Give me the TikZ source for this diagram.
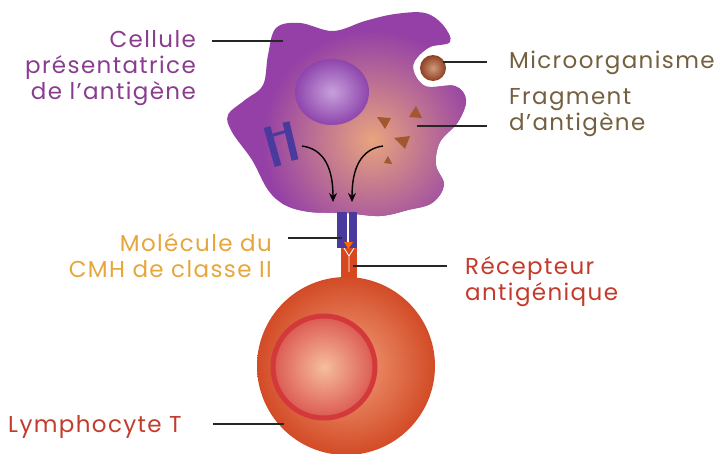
\documentclass[tikz,border=0pt]{standalone}
\usepackage{fontspec}
\setmainfont{Poppins}[LetterSpace=6]
\usepackage{tikz}
\usetikzlibrary{arrows.meta, shapes.geometric}

\definecolor{cpaText}{HTML}{8A3D8F}
\definecolor{brownText}{HTML}{74603F}
\definecolor{goldText}{HTML}{E6A63C}
\definecolor{redText}{HTML}{C23B2C}
\definecolor{cpaEdge}{HTML}{9440A6}
\definecolor{cpaGlow}{HTML}{E8A47E}
\definecolor{nucLight}{HTML}{C8A0DC}
\definecolor{nucDark}{HTML}{8E45AC}
\definecolor{mhcBlue}{HTML}{4B3A9E}
\definecolor{fragBrown}{HTML}{A2572F}
\definecolor{microDark}{HTML}{8E3F22}
\definecolor{microLight}{HTML}{D29A7C}
\definecolor{recRed}{HTML}{D8481F}
\definecolor{tEdge}{HTML}{D24B26}
\definecolor{tLight}{HTML}{F3A27E}
\definecolor{tRing}{HTML}{D3383A}
\definecolor{tCore}{HTML}{F6BE9C}

\begin{document}
\begin{tikzpicture}[
    x=1pt, y=-1pt,
    lbl/.style={font=\fontsize{23}{26}\selectfont, inner sep=0pt},
    leader/.style={line width=1.3pt, draw=black!85},
    flow/.style={->, line width=1.4pt, >={Stealth[length=9pt, width=8pt]}},
    frag/.style={fill=fragBrown}
  ]
    \useasboundingbox (0,0) rectangle (717,453);

    % antigen presenting cell
    \def\cpablob{plot[smooth cycle, tension=0.6] coordinates {
        (276,28) (300,23) (333,31) (365,21) (395,14) (425,13) (443,25)
        (450,42) (428,48) (413,66) (425,86) (455,86) (466,100) (458,122)
        (440,142) (436,165) (444,185) (432,203) (408,210) (380,216)
        (345,213) (310,212) (285,205) (268,190) (252,160) (232,132)
        (228,115) (245,100) (263,85) (268,55)}}
    \begin{scope}
      \clip \cpablob;
      \fill[cpaEdge] (200,0) rectangle (480,240);
      \shade[inner color=cpaGlow, outer color=cpaEdge] (372,140) circle (110);
    \end{scope}
    \node[ellipse, minimum width=74, minimum height=66, inner sep=0pt,
          inner color=nucLight, outer color=nucDark, shade] (cpanuc) at (332,92) {};

    % microorganism in its pocket
    \node[circle, minimum size=26, inner sep=0pt,
          inner color=microLight, outer color=microDark, shade] (microbe) at (433,68) {};

    % antigen fragments
    \fill[frag] (377,117) -- (391,118) -- (385,129) -- cycle;
    \fill[frag] (416,106) -- (422,118) -- (409,117) -- cycle;
    \fill[frag] (394,138) -- (410,136) -- (405,149) -- cycle;
    \fill[frag] (388,156) -- (392,164) -- (384,163) -- cycle;

    % MHC II inside the cell
    \draw[mhcBlue, line width=7pt] (267,127) -- (278,166);
    \draw[mhcBlue, line width=7pt] (286,122) -- (295,160);
    \draw[mhcBlue, line width=3pt] (270,136) -- (287,131);

    % transport arrows
    \coordinate (srcL) at (302,146);
    \coordinate (srcR) at (383,146);
    \coordinate (dstL) at (333,202);
    \coordinate (dstR) at (352,202);
    \draw[flow] (srcL) .. controls (324,149) and (333,168) .. (dstL);
    \draw[flow] (srcR) .. controls (361,149) and (352,168) .. (dstR);

    % receptor of the T cell
    \fill[recRed] (341,246) rectangle (357,285);
    \draw[white, line width=0.8pt] (344,248) -- (349,256) -- (354,248)
                                   (349,256) -- (349,272);

    % MHC II on the membrane with the peptide
    \fill[mhcBlue] (337,212) rectangle (347,248);
    \fill[mhcBlue] (349,212) rectangle (357,248);
    \fill[orange!80!red] (344,242) -- (353,242) -- (348.5,249) -- cycle;

    % T lymphocyte
    \node[circle, minimum size=178, inner sep=0pt,
          inner color=tLight, outer color=tEdge, shade] (tcell) at (346,366) {};
    \node[circle, minimum size=102, inner sep=0pt, draw=tRing, line width=5pt,
          inner color=tCore, outer color=tRing!75!tCore, shade] (tnuc) at (324,367) {};

    % labels and leaders
    \coordinate (cpaPt) at (283,41);
    \coordinate (microPt) at (443,62);
    \coordinate (fragPt) at (417,126);
    \coordinate (mhcPt) at (342,238);
    \coordinate (recPt) at (353,266);
    \coordinate (tPt) at (284,424);

    \node[lbl, text=cpaText, align=right, anchor=base east] (lblcpa) at (196,99)
         {Cellule\\présentatrice\\de l’antigène};
    \node[lbl, text=brownText, anchor=base west] (lblmicro) at (509,68) {Microorganisme};
    \node[lbl, text=brownText, align=left, anchor=base west] (lblfrag) at (509,130)
         {Fragment\\d’antigène};
    \node[lbl, text=goldText, align=right, anchor=base east] (lblmhc) at (272,277)
         {Molécule du\\CMH de classe II};
    \node[lbl, text=redText, align=left, anchor=base west] (lblrec) at (465,300)
         {Récepteur\\antigénique};
    \node[lbl, text=redText, anchor=base west] (lbltcell) at (8,432) {Lymphocyte T};

    \draw[leader] (212,41) -- (cpaPt);
    \draw[leader] (microPt) -- (487,62);
    \draw[leader] (fragPt) -- (487,126);
    \draw[leader] (288,238) -- (mhcPt);
    \draw[leader] (recPt) -- (447,266);
    \draw[leader] (213,424) -- (tPt);
\end{tikzpicture}
\end{document}
